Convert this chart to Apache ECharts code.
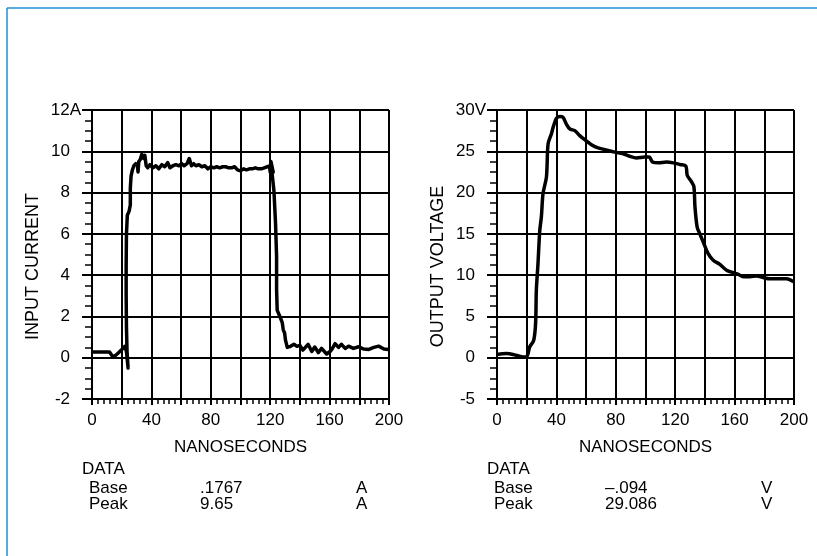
<!DOCTYPE html>
<html>
<head>
<meta charset="utf-8">
<script src="https://cdn.jsdelivr.net/npm/echarts@6/dist/echarts.min.js"></script>
<style>
  html, body { margin: 0; padding: 0; background: #fff; }
  #chart { width: 817px; height: 556px; }
</style>
</head>
<body>
<div id="chart"></div>
<script>
// input current trace (ns, A)
const currentTime = [0, 4, 8, 11.8, 14, 16, 17.5, 19.7, 22, 23.2, 24.3, 23.6, 23.2, 23.0, 23.0, 23.2, 23.8, 25.0, 25.8, 25.8, 26.3, 27.2, 28.2, 29.5, 30.6, 31.0, 31.5, 32.5, 33.5, 34.8, 35.6, 36.5, 37.5, 39, 41, 43, 45, 47, 49, 51, 52.5, 54.5, 56.5, 58.5, 60.5, 62, 64, 65.5, 67, 68.5, 70, 72, 74, 76, 78, 80, 82, 84, 86, 88, 90, 92, 94, 96, 98, 100, 102, 104, 106, 108, 110, 112, 114, 116, 118, 119.5, 120, 120.5, 121.8, 122, 121.3, 122.5, 123.6, 124.3, 124.3, 124.7, 126.5, 128.1, 128.8, 129.7, 130.3, 131.5, 133.7, 136, 138, 140, 142, 145.5, 148, 150, 152.4, 154.6, 158, 160.3, 161.5, 163.7, 166, 168, 170.5, 172.8, 176, 179.6, 183, 186.4, 189.8, 193, 196.6, 199.5];
const currentAmps = [0.28, 0.28, 0.28, 0.28, 0.05, 0.12, 0.22, 0.37, 0.55, 0.3, -0.5, 0.3, 1.5, 3.0, 4.5, 6.0, 6.9, 7.1, 7.4, 8.2, 8.8, 9.1, 9.3, 9.4, 9.3, 9.0, 9.5, 9.6, 9.85, 9.65, 9.8, 9.3, 9.2, 9.35, 9.2, 9.3, 9.15, 9.35, 9.25, 9.45, 9.2, 9.3, 9.35, 9.3, 9.4, 9.3, 9.4, 9.65, 9.3, 9.4, 9.3, 9.35, 9.25, 9.3, 9.15, 9.25, 9.2, 9.25, 9.2, 9.25, 9.25, 9.2, 9.2, 9.25, 9.1, 9.05, 9.15, 9.1, 9.15, 9.15, 9.2, 9.15, 9.15, 9.2, 9.25, 9.3, 9.0, 9.5, 9.5, 9.0, 8.9, 8.1, 6.5, 4.9, 3.3, 2.3, 2.0, 1.7, 1.35, 1.2, 0.85, 0.5, 0.55, 0.65, 0.55, 0.6, 0.37, 0.65, 0.3, 0.52, 0.25, 0.45, 0.18, 0.3, 0.4, 0.68, 0.5, 0.65, 0.45, 0.56, 0.45, 0.53, 0.42, 0.4, 0.5, 0.56, 0.42, 0.4];

// output voltage trace (ns, V)
const voltageTime = [0, 6.3, 10.8, 17.5, 19.8, 20.9, 22, 24.7, 26, 26.5, 27.6, 28.8, 29.9, 31, 33.3, 34.4, 36.6, 37.8, 38.9, 40, 42.2, 44.5, 46.7, 49, 52.4, 55.7, 59.1, 63.6, 68.1, 72.6, 79.3, 85, 89.4, 93.9, 99.6, 102.5, 104.7, 108.5, 114.2, 118.7, 123.2, 127.2, 128.1, 131, 132.6, 133.3, 134.8, 136.6, 138.9, 142.2, 145.6, 150.1, 154.6, 159.1, 162.5, 165.8, 170.3, 174.8, 179.3, 183.8, 188.3, 195, 199.6];
const voltageVolts = [0.4, 0.5, 0.4, 0.1, 0.1, 0.5, 1.3, 2.1, 4.2, 8.2, 11.4, 15.4, 17.1, 19.9, 21.9, 25.9, 27.1, 27.9, 28.5, 29, 29.2, 29.1, 28.3, 27.7, 27.5, 26.9, 26.4, 25.8, 25.4, 25.2, 24.9, 24.7, 24.4, 24.2, 24.3, 24.3, 23.7, 23.6, 23.7, 23.6, 23.4, 23.2, 22.1, 21.3, 20.7, 18.3, 15.8, 15.0, 14.0, 12.6, 11.8, 11.3, 10.6, 10.3, 10.1, 9.8, 9.8, 9.9, 9.7, 9.55, 9.55, 9.55, 9.2];

const xLabelEvery = 40;
const currentRange = [-2, 12];
const voltageRange = [-5, 30];
const leftTable = [['Base', '.1767', 'A'], ['Peak', '9.65', 'A']];
const rightTable = [['Base', '\u2013.094', 'V'], ['Peak', '29.086', 'V']];

const FONT = 'Liberation Sans, Arial, sans-serif';
const ink = '#000';

function pairs(xs, ys) {
  return xs.map((x, i) => [x, ys[i]]);
}

function xAxisFor(gridIndex) {
  return {
    type: 'value', gridIndex, min: 0, max: 200, interval: 20,
    name: 'NANOSECONDS', nameLocation: 'middle', nameGap: 40,
    nameTextStyle: { color: ink, fontSize: 17, fontFamily: FONT },
    axisLine: { onZero: false, lineStyle: { color: ink, width: 2 } },
    axisTick: { length: 6, lineStyle: { color: ink, width: 2 } },
    minorTick: { show: true, splitNumber: 5, length: 5, lineStyle: { color: ink, width: 1.5 } },
    axisLabel: {
      color: ink, fontSize: 17, fontFamily: FONT, margin: 13,
      formatter: v => (v % xLabelEvery === 0 ? String(v) : '')
    },
    splitLine: { show: true, lineStyle: { color: ink, width: 2 } }
  };
}

function yAxisFor(gridIndex, range, step, unit, title) {
  return {
    type: 'value', gridIndex, min: range[0], max: range[1], interval: step,
    name: title, nameLocation: 'middle', nameGap: 50,
    nameTextStyle: { color: ink, fontSize: 18, fontFamily: FONT, padding: [0, 24, 0, 0] },
    axisLine: { onZero: false, lineStyle: { color: ink, width: 2 } },
    axisTick: { length: 10, lineStyle: { color: ink, width: 2 } },
    minorTick: { show: true, splitNumber: 4, length: 7, lineStyle: { color: ink, width: 1.5 } },
    axisLabel: {
      color: ink, fontSize: 17, fontFamily: FONT, margin: 11,
      // numbers line up on the right, the unit on the top label sticks out past them
      formatter: v => '{n|' + v + '}' + (v === range[1] ? '{u|' + unit + '}' : '{s| }'),
      rich: {
        n: { fontSize: 17, fontFamily: FONT, color: ink },
        u: { fontSize: 17, fontFamily: FONT, color: ink },
        s: { fontSize: 17, fontFamily: FONT, width: 11 }
      }
    },
    splitLine: { show: true, lineStyle: { color: ink, width: 2 } }
  };
}

function tableTexts(rows, dx) {
  const out = [{
    type: 'text', x: 82 + dx, y: 469,
    style: { text: 'DATA', font: '17px ' + FONT, fill: ink, verticalAlign: 'middle' }
  }];
  rows.forEach((row, i) => {
    const y = 488 + i * 16;
    [89, 200, 356].forEach((x, j) => {
      out.push({
        type: 'text', x: x + dx, y,
        style: { text: row[j], font: '17px ' + FONT, fill: ink, verticalAlign: 'middle' }
      });
    });
  });
  return out;
}

const chart = echarts.init(document.getElementById('chart'), null, { renderer: 'canvas' });
chart.setOption({
  backgroundColor: '#fff',
  animation: false,
  grid: [
    { left: 92, top: 110, width: 297, height: 289 },
    { left: 497, top: 110, width: 297, height: 289 }
  ],
  xAxis: [xAxisFor(0), xAxisFor(1)],
  yAxis: [
    yAxisFor(0, currentRange, 2, 'A', 'INPUT CURRENT'),
    yAxisFor(1, voltageRange, 5, 'V', 'OUTPUT VOLTAGE')
  ],
  series: [
    {
      type: 'line', xAxisIndex: 0, yAxisIndex: 0,
      data: pairs(currentTime, currentAmps),
      showSymbol: false,
      lineStyle: { color: ink, width: 3.5, join: 'round' }
    },
    {
      type: 'line', xAxisIndex: 1, yAxisIndex: 1,
      data: pairs(voltageTime, voltageVolts),
      showSymbol: false, smooth: 0.3,
      lineStyle: { color: ink, width: 3.5, join: 'round' }
    }
  ],
  graphic: [
    { type: 'line', shape: { x1: 7, y1: 8, x2: 817, y2: 8 }, style: { stroke: '#1f8fd8', lineWidth: 1.5 } },
    { type: 'line', shape: { x1: 7, y1: 8, x2: 7, y2: 556 }, style: { stroke: '#1f8fd8', lineWidth: 1.5 } }
  ].concat(tableTexts(leftTable, 0), tableTexts(rightTable, 405))
});
</script>
</body>
</html>
